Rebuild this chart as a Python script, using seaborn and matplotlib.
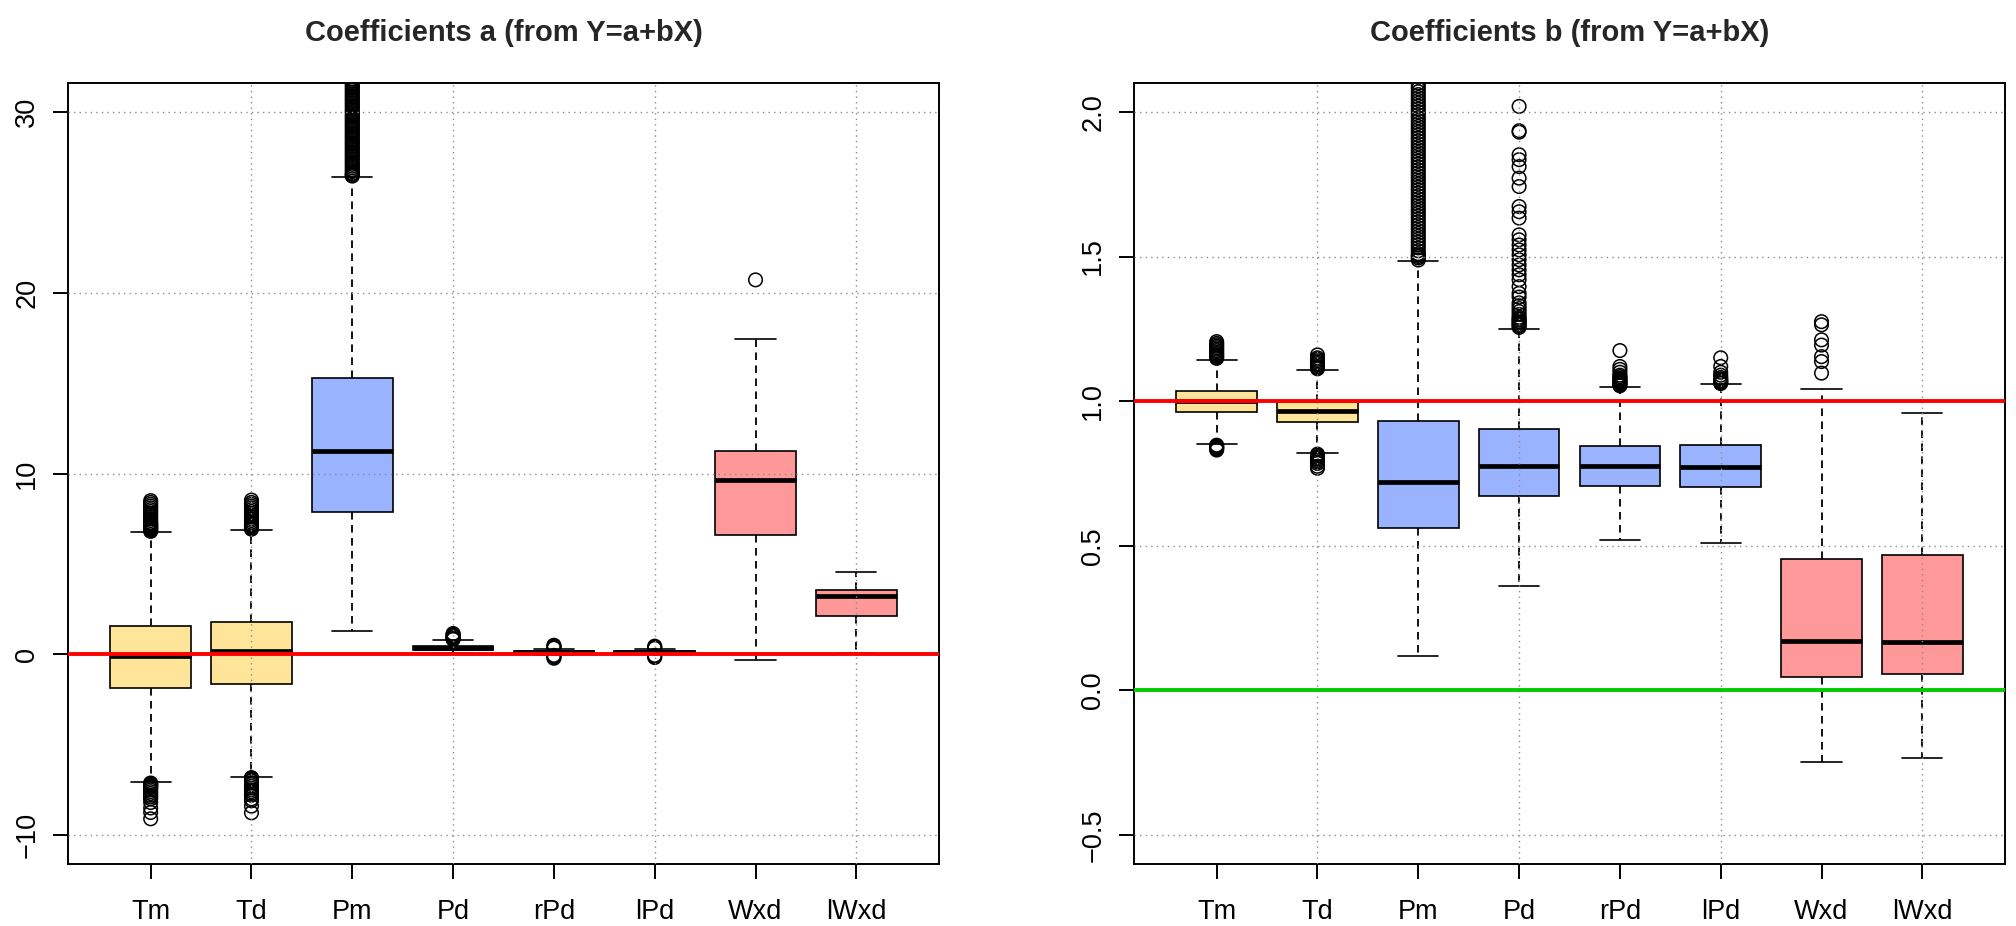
import matplotlib
matplotlib.use("Agg")
import matplotlib.pyplot as plt
import numpy as np
import pandas as pd
import seaborn as sns

# ---- data -------------------------------------------------------------
variables = ["Tm", "Td", "Pm", "Pd", "rPd", "lPd", "Wxd", "lWxd"]
groups = ["T", "T", "P", "P", "P", "P", "W", "W"]

# coefficient a (intercept)
a_whislo = [-7.07, -6.77, 1.29, 0.08, -0.02, -0.01, -0.33, 0.09]
a_q1 = [-1.88, -1.66, 7.85, 0.23, 0.09, 0.09, 6.61, 2.12]
a_med = [-0.12, 0.20, 11.24, 0.35, 0.14, 0.13, 9.63, 3.23]
a_q3 = [1.57, 1.77, 15.27, 0.46, 0.19, 0.18, 11.26, 3.56]
a_whishi = [6.74, 6.88, 26.40, 0.78, 0.30, 0.29, 17.46, 4.54]
a_out_Tm = [6.8, 6.85, 6.9, 6.95, 7.0, 7.05, 7.1, 7.15, 7.2, 7.25, 7.3, 7.4,
            7.5, 7.6, 7.7, 7.8, 7.9, 8.0, 8.1, 8.2, 8.3, 8.4, 8.5,
            -7.12, -7.15, -7.2, -7.25, -7.3, -7.35, -7.4, -7.5, -7.6, -7.7,
            -7.8, -7.9, -8.0, -8.2, -8.5, -8.75, -9.1]
a_out_Td = [6.92, 6.95, 7.0, 7.05, 7.1, 7.15, 7.2, 7.3, 7.4, 7.5, 7.6, 7.7,
            7.8, 7.9, 8.0, 8.1, 8.2, 8.3, 8.4, 8.53,
            -6.82, -6.85, -6.9, -6.95, -7.0, -7.1, -7.2, -7.3, -7.4, -7.5,
            -7.6, -7.7, -7.8, -8.0, -8.1, -8.4, -8.77]
a_out_Pm = [26.45, 26.5, 26.55, 26.6, 26.7, 26.8, 26.9, 27.0, 27.1, 27.2,
            27.3, 27.4, 27.5, 27.6, 27.7, 27.8, 27.9, 28.0, 28.1, 28.2, 28.3,
            28.4, 28.5, 28.6, 28.7, 28.8, 28.9, 29.0, 29.1, 29.2, 29.3, 29.4,
            29.5, 29.6, 29.7, 29.8, 29.9, 30.0, 30.1, 30.2, 30.3, 30.4, 30.5,
            30.6, 30.7, 30.8, 30.9, 31.0, 31.1, 31.2, 31.3, 31.4, 31.5, 31.6,
            31.7, 31.8, 32.0]
a_out_Pd = [0.82, 0.86, 0.90, 0.95, 1.00, 1.05, 1.10, 1.15]
a_out_rPd = [-0.22, -0.16, -0.10, -0.06, 0.34, 0.38, 0.42, 0.46, 0.50]
a_out_lPd = [-0.18, -0.12, -0.06, 0.33, 0.37, 0.41, 0.45]
a_out_Wxd = [20.71]
a_out_lWxd = []

# coefficient b (slope)
b_whislo = [0.852, 0.821, 0.120, 0.360, 0.521, 0.509, -0.248, -0.235]
b_q1 = [0.962, 0.929, 0.562, 0.673, 0.707, 0.704, 0.046, 0.056]
b_med = [1.000, 0.966, 0.722, 0.777, 0.776, 0.774, 0.172, 0.169]
b_q3 = [1.035, 0.996, 0.931, 0.904, 0.845, 0.848, 0.454, 0.469]
b_whishi = [1.144, 1.108, 1.484, 1.251, 1.050, 1.058, 1.043, 0.959]
b_out_Tm = [1.148, 1.152, 1.156, 1.16, 1.165, 1.17, 1.175, 1.18, 1.185, 1.19,
            1.195, 1.20, 1.206,
            0.848, 0.845, 0.842, 0.840, 0.837, 0.835, 0.831]
b_out_Td = [1.112, 1.116, 1.12, 1.125, 1.13, 1.135, 1.14, 1.145, 1.15, 1.16,
            0.817, 0.813, 0.809, 0.805, 0.80, 0.795, 0.79, 0.785, 0.775, 0.768]
b_out_Pm = [1.488, 1.495, 1.50, 1.505, 1.51, 1.52, 1.53, 1.54, 1.55, 1.56,
            1.57, 1.58, 1.59, 1.60, 1.61, 1.62, 1.63, 1.64, 1.65, 1.66, 1.67,
            1.68, 1.69, 1.70, 1.71, 1.72, 1.73, 1.74, 1.75, 1.76, 1.77, 1.78,
            1.79, 1.80, 1.81, 1.82, 1.83, 1.84, 1.85, 1.86, 1.87, 1.88, 1.89,
            1.90, 1.91, 1.92, 1.93, 1.94, 1.95, 1.96, 1.97, 1.98, 1.99, 2.00,
            2.01, 2.02, 2.03, 2.04, 2.05, 2.06, 2.07, 2.08, 2.09, 2.10, 2.12]
b_out_Pd = [1.255, 1.26, 1.265, 1.27, 1.275, 1.28, 1.285, 1.29, 1.30, 1.31,
            1.32, 1.33, 1.34, 1.36, 1.373, 1.396, 1.42, 1.437, 1.454, 1.471,
            1.489, 1.506, 1.523, 1.54, 1.558, 1.575, 1.633, 1.655, 1.673,
            1.742, 1.771, 1.811, 1.835, 1.852, 1.93, 1.935, 2.019]
b_out_rPd = [1.053, 1.056, 1.06, 1.063, 1.066, 1.07, 1.073, 1.076, 1.08,
             1.085, 1.09, 1.10, 1.11, 1.12, 1.175]
b_out_lPd = [1.061, 1.064, 1.067, 1.07, 1.073, 1.077, 1.082, 1.09, 1.10,
             1.12, 1.15]
b_out_Wxd = [1.097, 1.137, 1.154, 1.194, 1.212, 1.264, 1.275]
b_out_lWxd = []

a_yticks = [-10, 0, 10, 20, 30]
b_yticks = [-0.5, 0.0, 0.5, 1.0, 1.5, 2.0]
titles = ["Coefficients a (from Y=a+bX)", "Coefficients b (from Y=a+bX)"]

# ---- styling ----------------------------------------------------------
sns.set_style("ticks")
plt.rcParams["font.family"] = ["Liberation Sans", "DejaVu Sans"]

group_colors = {"T": "#FFE599", "P": "#99B3FF", "W": "#FF9999"}


def build_stats(whislo, q1, med, q3, whishi, outliers):
    stats = []
    for i, name in enumerate(variables):
        stats.append(dict(label=name, whislo=whislo[i], q1=q1[i], med=med[i],
                          q3=q3[i], whishi=whishi[i], fliers=[]))
    rows = []
    for i, vals in enumerate(outliers):
        for v in vals:
            rows.append({"pos": i + 1, "value": v})
    return stats, pd.DataFrame(rows)


def tick_text(t):
    s = f"{t:g}" if isinstance(t, int) else f"{t:.1f}"
    return s.replace("-", "\u2212")


def draw_panel(ax, stats, fliers, yticks, ylim, title, ref_lines):
    positions = np.arange(1, len(variables) + 1)
    bp = ax.bxp(stats, positions=positions, widths=0.8, capwidths=0.4,
                patch_artist=True, showfliers=False,
                boxprops=dict(edgecolor="black", linewidth=1.2),
                medianprops=dict(color="black", linewidth=3.4,
                                 solid_capstyle="butt"),
                whiskerprops=dict(color="black", linewidth=1.3,
                                  linestyle=(0, (4.2, 3.0))),
                capprops=dict(color="black", linewidth=1.2))
    for patch, g in zip(bp["boxes"], groups):
        patch.set_facecolor(group_colors[g])
    for artist_list in bp.values():
        for a in artist_list:
            a.set_zorder(2)

    sns.scatterplot(data=fliers, x="pos", y="value", ax=ax, marker="o",
                    s=95, facecolors="none", edgecolors="black",
                    linewidths=1.1, zorder=3, legend=False)

    # dotted reference grid drawn over the boxes
    for y in yticks:
        ax.axhline(y, color="#8c8c8c", linewidth=1.0, linestyle=(0, (1, 3)),
                   zorder=4)
    for x in positions[1::2]:
        ax.axvline(x, color="#8c8c8c", linewidth=1.0, linestyle=(0, (1, 3)),
                   zorder=4)
    for y, c in ref_lines:
        ax.axhline(y, color=c, linewidth=2.8, zorder=5)

    ax.set_xlim(0.18, len(variables) + 0.82)
    ax.set_ylim(*ylim)
    ax.set_xticks(positions)
    ax.set_xticklabels(variables)
    ax.set_yticks(yticks)
    ax.set_yticklabels([tick_text(t) for t in yticks])
    for lab in ax.get_yticklabels():
        lab.set_rotation(90)
        lab.set_va("center")
    ax.set_xlabel("")
    ax.set_ylabel("")
    ax.tick_params(axis="both", direction="out", length=11, width=1.4,
                   labelsize=19.5, color="black", labelcolor="black")
    ax.tick_params(axis="x", pad=14)
    ax.tick_params(axis="y", pad=9)
    for sp in ax.spines.values():
        sp.set_visible(True)
        sp.set_linewidth(1.4)
        sp.set_color("black")
    ax.set_title(title, fontsize=21, fontweight="bold", pad=30)


fig = plt.figure(figsize=(20.16, 9.26), dpi=100)
ax_a = fig.add_axes([68 / 2016, 62 / 926, 871 / 2016, 781 / 926])
ax_b = fig.add_axes([1134 / 2016, 62 / 926, 871 / 2016, 781 / 926])

a_stats, a_fliers = build_stats(a_whislo, a_q1, a_med, a_q3, a_whishi,
                                [a_out_Tm, a_out_Td, a_out_Pm, a_out_Pd,
                                 a_out_rPd, a_out_lPd, a_out_Wxd, a_out_lWxd])
b_stats, b_fliers = build_stats(b_whislo, b_q1, b_med, b_q3, b_whishi,
                                [b_out_Tm, b_out_Td, b_out_Pm, b_out_Pd,
                                 b_out_rPd, b_out_lPd, b_out_Wxd, b_out_lWxd])

draw_panel(ax_a, a_stats, a_fliers, a_yticks, (-11.6, 31.6), titles[0],
           [(0, "#FF0000")])
draw_panel(ax_b, b_stats, b_fliers, b_yticks, (-0.6, 2.1), titles[1],
           [(1.0, "#FF0000"), (0.0, "#00CD00")])

fig.savefig("out.png", dpi=100, facecolor="white")
